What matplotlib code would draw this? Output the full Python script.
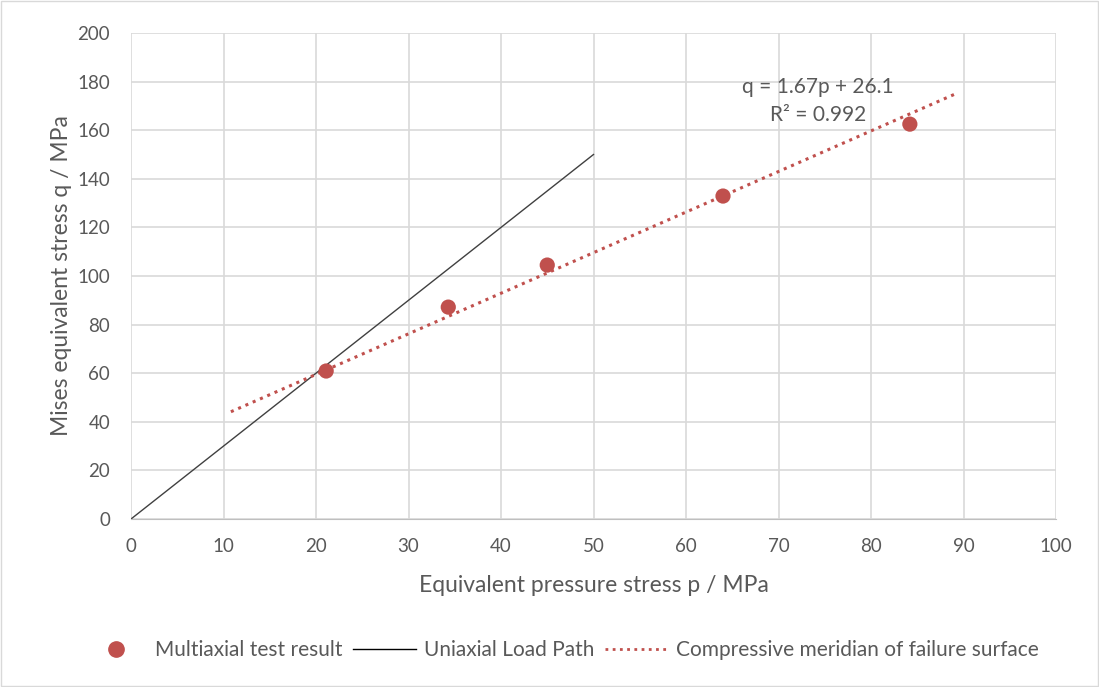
import matplotlib
matplotlib.use("Agg")
import matplotlib.pyplot as plt
from matplotlib.lines import Line2D

p_test = [21.1, 34.3, 45.0, 64.0, 84.2]
q_test = [60.9, 87.2, 104.5, 132.9, 162.5]
uni_p = [0, 50]
uni_q = [0, 150]
slope, intercept = 1.67, 26.1
trend_p = [10.8, 89.0]
trend_q = [slope * x + intercept for x in trend_p]

plt.rcParams['font.family'] = ['Lato', 'DejaVu Sans']
txt = '#595959'
red = '#C0504D'

fig = plt.figure(figsize=(10.99, 6.87), dpi=100)
fig.patches.append(plt.Rectangle((0.001, 0.001), 0.998, 0.998, transform=fig.transFigure,
                                 fill=False, edgecolor='#D9D9D9', linewidth=1))
ax = fig.add_axes([131/1099, 1-519/687, (1056-131)/1099, (519-33)/687])

ax.plot(trend_p, trend_q, linestyle=(0, (1, 1.6)), color=red, linewidth=2.2, zorder=3)
ax.plot(uni_p, uni_q, color='#404040', linewidth=1.0, zorder=2)
ax.scatter(p_test, q_test, s=120, color=red, zorder=4, edgecolors='none')

ax.set_xlim(0, 100)
ax.set_ylim(0, 200)
ax.set_xticks(range(0, 101, 10))
ax.set_yticks(range(0, 201, 20))
ax.grid(True, color='#D9D9D9', linewidth=1.2)
ax.set_axisbelow(True)
for s in ['top', 'right', 'left']:
    ax.spines[s].set_visible(False)
ax.spines['bottom'].set_color('#BFBFBF')
ax.tick_params(axis='both', length=0, labelsize=13.5, colors=txt)
ax.tick_params(axis='x', pad=14)
ax.tick_params(axis='y', pad=15)
ax.set_xlabel('Equivalent pressure stress p / MPa', fontsize=16.5, color=txt, labelpad=14)
ax.set_ylabel('Mises equivalent stress q / MPa', fontsize=16.5, color=txt, labelpad=4)

ax.text(74.3, 177.8, 'q = 1.67p + 26.1', ha='center', va='center', fontsize=15, color=txt)
ax.text(74.3, 166.4, 'R² = 0.992', ha='center', va='center', fontsize=15, color=txt)

handles = [
    Line2D([], [], marker='o', linestyle='none', color=red, markersize=11),
    Line2D([], [], color='black', linewidth=1.0),
    Line2D([], [], color=red, linestyle=(0, (1, 1.6)), linewidth=2.0),
]
labels = ['Multiaxial test result', 'Uniaxial Load Path', 'Compressive meridian of failure surface']
fig.legend(handles, labels, loc='center', bbox_to_anchor=(0.511, 1-650/687), ncol=3,
           frameon=False, fontsize=15, labelcolor=txt, handlelength=3.0, columnspacing=0.5,
           handletextpad=0.4)

fig.savefig('out.png', dpi=100)
